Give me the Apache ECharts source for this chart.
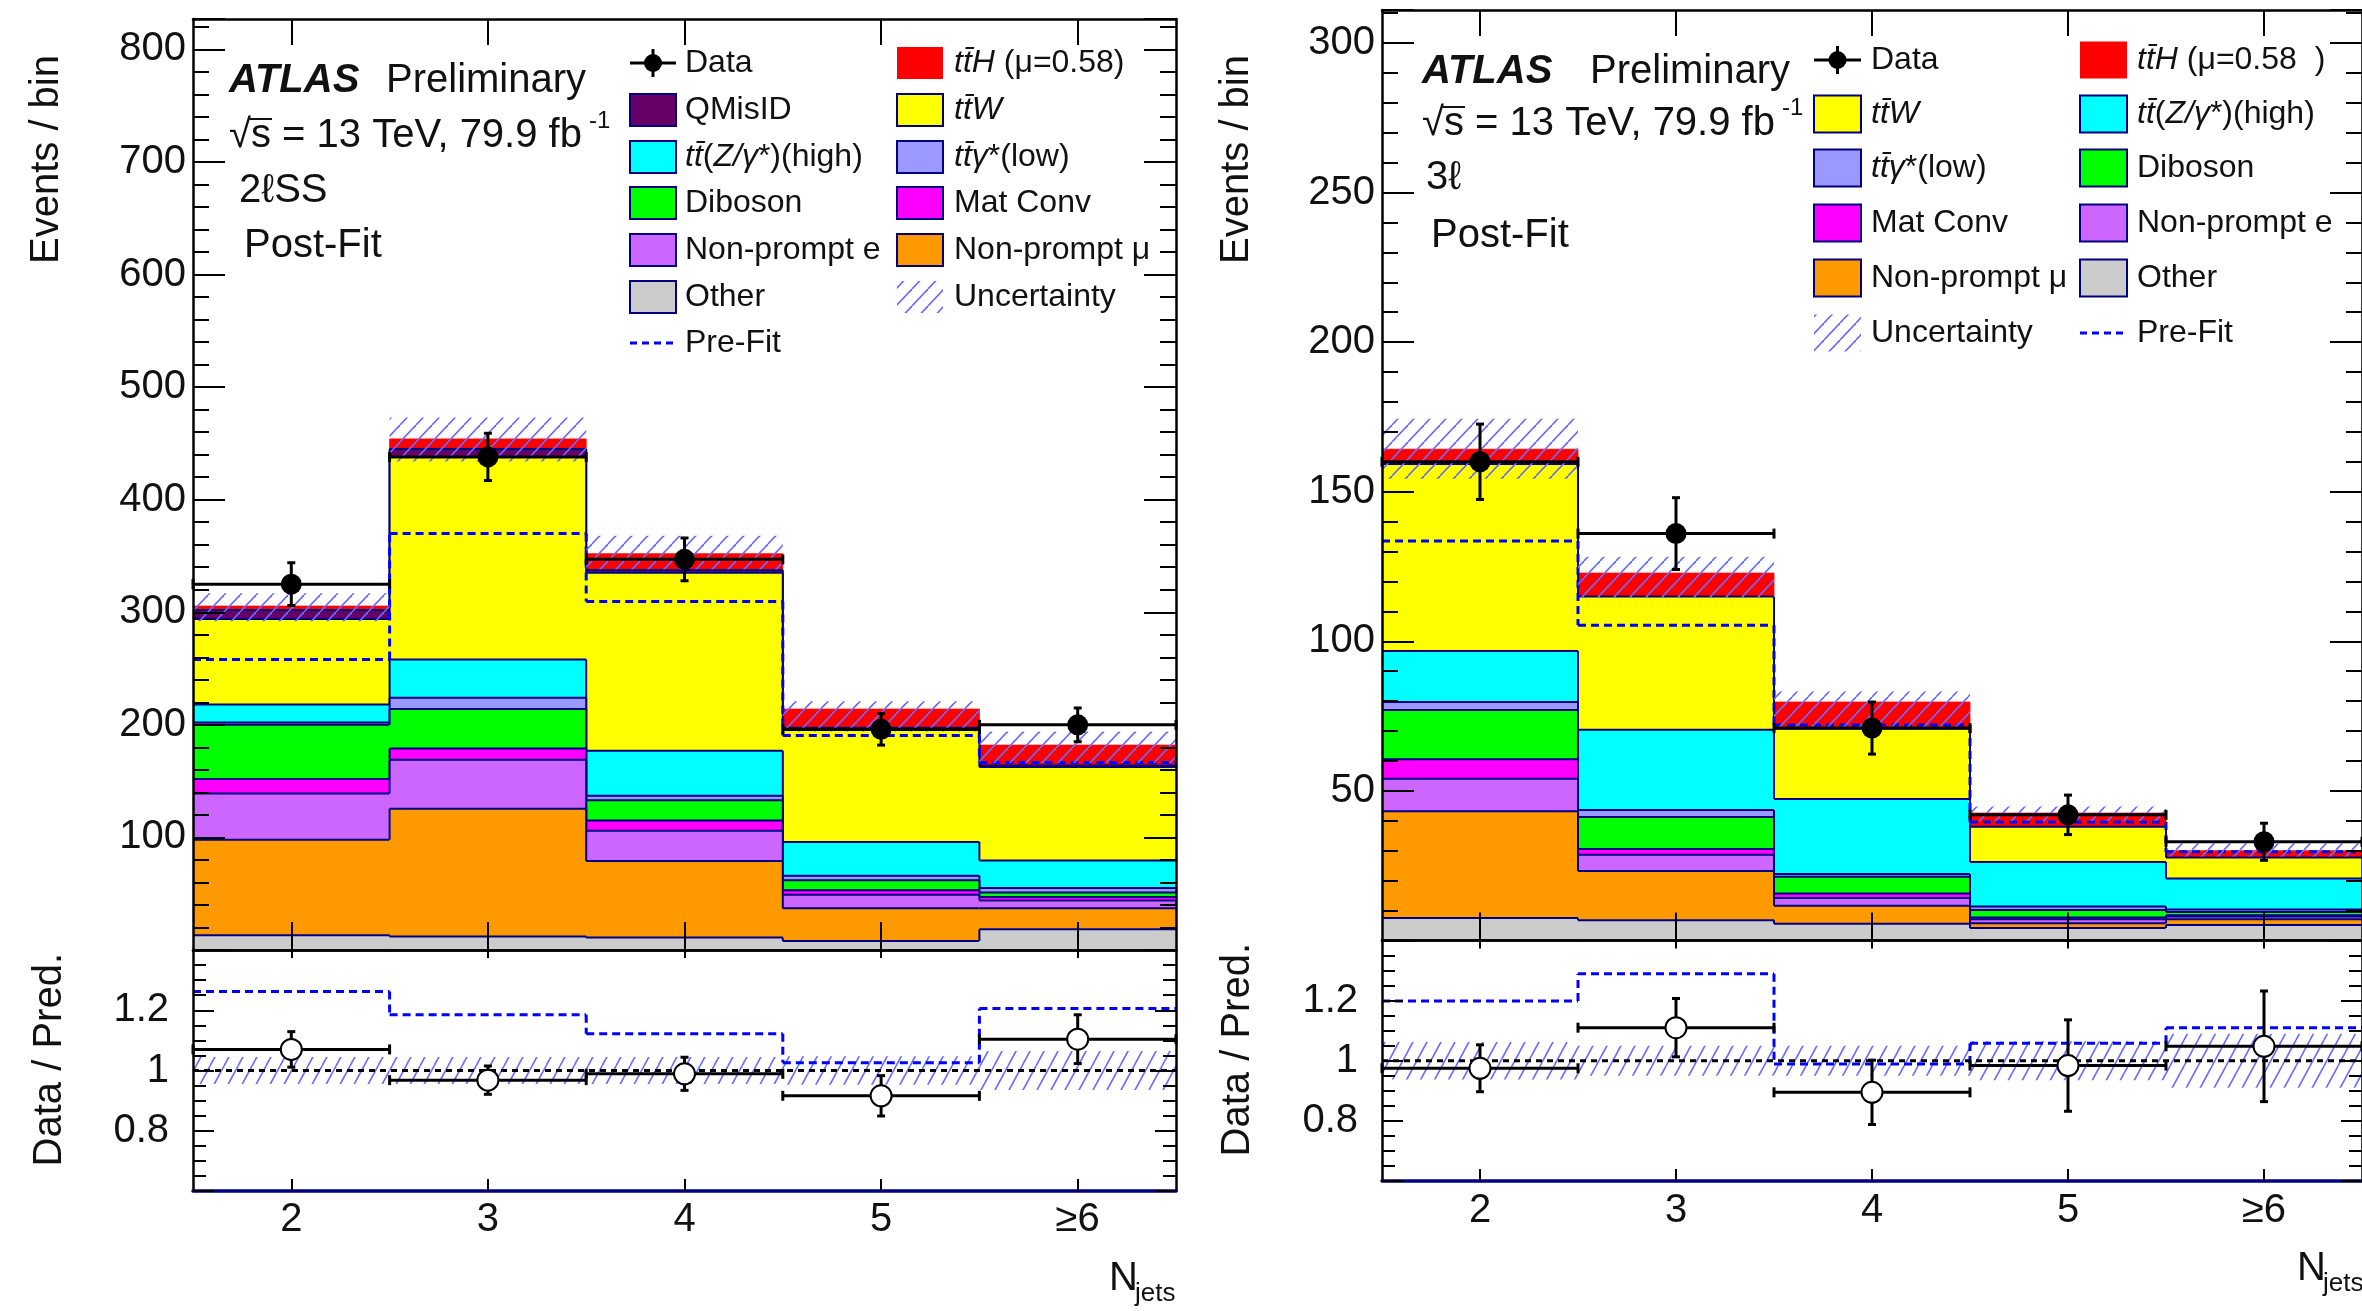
<!DOCTYPE html>
<html>
<head>
<meta charset="utf-8">
<title>ttH multilepton: N_jets post-fit</title>
<script src="https://cdn.jsdelivr.net/npm/echarts@6.0.0/dist/echarts.min.js"></script>
<style>
html, body { margin: 0; padding: 0; background: #fff; }
#chart { width: 2362px; height: 1311px; }
</style>
</head>
<body>
<div id="chart"></div>
<script>
// ---------- bins ----------
const categories = ['2', '3', '4', '5', '≥6'];

// ---------- 2ℓSS region (post-fit yields per bin, stack order bottom -> top) ----------
const ssOther   = [13, 12, 11, 8, 18.5];
const ssNPmu    = [85, 113.5, 68, 29, 18.5];
const ssNPe     = [41, 43.5, 27, 12, 7];
const ssMatConv = [13, 10, 9, 4, 3];
const ssDiboson = [48, 35, 18, 9, 4];
const ssTTgLow  = [2, 10, 4, 4, 4];
const ssTTZ     = [16, 34, 40, 30, 24.5];
const ssTTW     = [76, 180, 158, 99.5, 83];
const ssQMisID  = [8, 7, 2.5, 2, 1.5];
const ssTTH     = [3.5, 9, 14.5, 16.5, 18];
const ssData    = [325, 438, 347, 196, 200];
const ssDataErr = [19, 21, 19, 14, 15];
const ssPreFit  = [258, 370, 309.5, 190.5, 166.5];
const ssUncLo   = [292, 434, 338, 194, 166];
const ssUncHi   = [317, 473, 368, 221, 194];
const ssRatio    = [1.07, 0.968, 0.989, 0.916, 1.104];
const ssRatioErr = [0.059, 0.047, 0.055, 0.067, 0.081];
const ssRatioPre = [1.262, 1.185, 1.122, 1.026, 1.206];
const ssRatioUnc = [0.045, 0.045, 0.045, 0.047, 0.065];

// ---------- 3ℓ region ----------
const l3Other   = [7.5, 6.8, 5.6, 4.2, 5.2];
const l3NPmu    = [35.7, 16.4, 6, 1.6, 1.9];
const l3NPe     = [10.9, 5.5, 2.6, 1.3, 0.9];
const l3MatConv = [6.5, 1.9, 1.5, 0.6, 0.4];
const l3Diboson = [16.4, 10.7, 5.6, 2.5, 1.1];
const l3TTgLow  = [2.7, 2.3, 0.9, 1.2, 0.9];
const l3TTZ     = [17.1, 26.8, 25.1, 14.8, 10.3];
const l3TTW     = [62.5, 44.6, 23.5, 11.8, 7];
const l3TTH     = [4.9, 7.8, 8.9, 4.6, 2.3];
const l3Data    = [160, 136, 71, 42, 33];
const l3DataErr = [12.6, 12, 8.7, 6.6, 6.2];
const l3PreFit  = [133.5, 105.4, 72, 39.6, 29.7];
const l3UncLo   = [154.3, 114.7, 70.8, 39.9, 28.1];
const l3UncHi   = [174.4, 128.3, 83.2, 44.8, 32.4];
const l3Ratio    = [0.975, 1.11, 0.895, 0.984, 1.048];
const l3RatioErr = [0.078, 0.097, 0.107, 0.152, 0.184];
const l3RatioPre = [1.199, 1.289, 0.989, 1.058, 1.11];
const l3RatioUnc = [0.062, 0.05, 0.05, 0.065, 0.09];

// ---------- styling ----------
const FONT = '"Liberation Sans", Arial, Helvetica, sans-serif';
const INK = '#111111';
const NAVY = '#000080';
const HATCH = '#6a6aff';
const PREFIT = '#0000ff';
const COLORS = {
  other: '#cccccc', npmu: '#ff9900', npe: '#cc66ff', matconv: '#ff00ff', diboson: '#00ff00',
  ttglow: '#9999ff', ttz: '#00ffff', ttw: '#ffff00', qmisid: '#660066', tth: '#ff0000'
};

function hatchPattern(w, h) {
  const c = document.createElement('canvas');
  c.width = w; c.height = h;
  const g = c.getContext('2d');
  g.strokeStyle = HATCH; g.lineWidth = 1.6;
  for (const dx of [-w, 0, w]) {
    g.beginPath(); g.moveTo(dx, h); g.lineTo(dx + w, 0); g.stroke();
  }
  return { image: c, repeat: 'repeat' };
}
const hatchMain = hatchPattern(16, 17);
const hatchRatio = hatchPattern(14, 26);

// cumulative bounds of each stacked component
function stackLayers(list) {
  let base = categories.map(() => 0);
  return list.map(([key, values]) => {
    const lo = base.slice();
    const hi = base.map((b, i) => b + values[i]);
    base = hi;
    return { key, values, lo, hi };
  });
}

// one stacked component: filled bins + step outline along its upper edge
function layerSeries(L, xIdx, yIdx) {
  const outline = L.key !== 'tth';
  return {
    type: 'custom', name: L.key, xAxisIndex: xIdx, yAxisIndex: yIdx, clip: true, silent: true,
    data: L.values.map((v, i) => [i, L.lo[i], L.hi[i]]),
    renderItem(params, api) {
      const i = api.value(0);
      const w = api.size([1, 0])[0];
      const pLo = api.coord([i, api.value(1)]);
      const pHi = api.coord([i, api.value(2)]);
      const x0 = pLo[0] - w / 2, x1 = pLo[0] + w / 2;
      const col = COLORS[L.key];
      const children = [{
        type: 'rect', shape: { x: x0, y: pHi[1], width: w, height: pLo[1] - pHi[1] },
        style: { fill: col, stroke: col, lineWidth: 0.8 }
      }];
      if (outline) {
        children.push({ type: 'line', shape: { x1: x0, y1: pHi[1], x2: x1, y2: pHi[1] },
          style: { stroke: NAVY, lineWidth: 2 } });
        if (i > 0) {
          const prev = api.coord([i - 1, L.hi[i - 1]])[1];
          children.push({ type: 'line', shape: { x1: x0, y1: prev, x2: x0, y2: pHi[1] },
            style: { stroke: NAVY, lineWidth: 2 } });
        }
      }
      return { type: 'group', children };
    }
  };
}

// hatched uncertainty band
function bandSeries(lo, hi, xIdx, yIdx, pattern) {
  return {
    type: 'custom', xAxisIndex: xIdx, yAxisIndex: yIdx, clip: true, silent: true,
    data: lo.map((v, i) => [i, v, hi[i]]),
    renderItem(params, api) {
      const i = api.value(0);
      const w = api.size([1, 0])[0];
      const a = api.coord([i, api.value(1)]);
      const b = api.coord([i, api.value(2)]);
      return { type: 'rect', shape: { x: a[0] - w / 2, y: b[1], width: w, height: a[1] - b[1] },
        style: { fill: pattern } };
    }
  };
}

// dashed pre-fit step line
function stepSeries(vals, xIdx, yIdx) {
  return {
    type: 'custom', xAxisIndex: xIdx, yAxisIndex: yIdx, clip: true, silent: true,
    data: vals.map((v, i) => [i, v]),
    renderItem(params, api) {
      const i = api.value(0);
      const w = api.size([1, 0])[0];
      const p = api.coord([i, api.value(1)]);
      const st = { stroke: PREFIT, lineWidth: 3, lineDash: [8, 5] };
      const children = [{ type: 'line', shape: { x1: p[0] - w / 2, y1: p[1], x2: p[0] + w / 2, y2: p[1] }, style: st }];
      if (i > 0) {
        const prev = api.coord([i - 1, vals[i - 1]])[1];
        children.push({ type: 'line', shape: { x1: p[0] - w / 2, y1: prev, x2: p[0] - w / 2, y2: p[1] }, style: st });
      }
      return { type: 'group', children };
    }
  };
}

// dotted reference line at ratio = 1
function unitySeries(xIdx, yIdx) {
  return {
    type: 'custom', xAxisIndex: xIdx, yAxisIndex: yIdx, clip: true, silent: true,
    data: [[0, 1]],
    renderItem(params, api) {
      const w = api.size([1, 0])[0];
      const a = api.coord([0, 1]);
      const b = api.coord([categories.length - 1, 1]);
      return { type: 'line', shape: { x1: a[0] - w / 2, y1: a[1], x2: b[0] + w / 2, y2: a[1] },
        style: { stroke: '#000', lineWidth: 3, lineDash: [6, 5] } };
    }
  };
}

// data points with bin-width horizontal bars and vertical error bars
function pointSeries(vals, errs, xIdx, yIdx, open) {
  return {
    type: 'custom', xAxisIndex: xIdx, yAxisIndex: yIdx, clip: false, silent: true, z: 20,
    data: vals.map((v, i) => [i, v, errs[i]]),
    renderItem(params, api) {
      const i = api.value(0), v = api.value(1), e = api.value(2);
      const w = api.size([1, 0])[0];
      const c = api.coord([i, v]);
      const yt = api.coord([i, v + e])[1], yb = api.coord([i, v - e])[1];
      const x0 = c[0] - w / 2, x1 = c[0] + w / 2;
      const st = { stroke: '#000', lineWidth: 3 };
      return { type: 'group', children: [
        { type: 'line', shape: { x1: x0, y1: c[1], x2: x1, y2: c[1] }, style: st },
        { type: 'line', shape: { x1: x0, y1: c[1] - 5, x2: x0, y2: c[1] + 5 }, style: st },
        { type: 'line', shape: { x1: x1, y1: c[1] - 5, x2: x1, y2: c[1] + 5 }, style: st },
        { type: 'line', shape: { x1: c[0], y1: yt, x2: c[0], y2: yb }, style: st },
        { type: 'line', shape: { x1: c[0] - 4, y1: yt, x2: c[0] + 4, y2: yt }, style: st },
        { type: 'line', shape: { x1: c[0] - 4, y1: yb, x2: c[0] + 4, y2: yb }, style: st },
        { type: 'circle', shape: { cx: c[0], cy: c[1], r: 10.5 },
          style: open ? { fill: '#fff', stroke: '#000', lineWidth: 2 } : { fill: '#000' } }
      ] };
    }
  };
}

// ---------- axes ----------
function catAxis(gridIndex, position, tickLen, o) {
  o = o || {};
  return {
    type: 'category', gridIndex, position, data: categories, boundaryGap: true, z: 5,
    axisLine: { show: true, onZero: false, lineStyle: { color: o.lineColor || '#000', width: o.lineWidth || 2.5 } },
    axisTick: { show: true, inside: true, alignWithLabel: true, interval: 0, length: tickLen,
      lineStyle: { color: '#000', width: 2 } },
    axisLabel: o.labels
      ? { show: true, interval: 0, margin: o.margin, fontSize: 40, fontFamily: FONT, color: INK }
      : { show: false },
    splitLine: { show: false }
  };
}
function valAxis(gridIndex, position, min, max, interval, minorSplit, major, minor, fmt, margin) {
  return {
    type: 'value', gridIndex, position, min, max, interval, z: 5,
    axisLine: { show: true, onZero: false, lineStyle: { color: '#000', width: 2.5 } },
    axisTick: { show: true, inside: true, length: major, lineStyle: { color: '#000', width: 2 } },
    minorTick: { show: true, splitNumber: minorSplit, length: minor, lineStyle: { color: '#000', width: 2 } },
    axisLabel: fmt
      ? { show: true, formatter: fmt, margin, fontSize: 40, fontFamily: FONT, color: INK }
      : { show: false },
    splitLine: { show: false }, minorSplitLine: { show: false }
  };
}
const fmtSS = v => (v > 0 && v % 100 === 0) ? String(v) : '';
const fmt3L = v => (v > 0 && v % 50 === 0) ? String(v) : '';
const fmtRatio = v => {
  if (Math.abs(v - 1) < 1e-6) return '1';
  if (Math.abs(v - 0.8) < 1e-6 || Math.abs(v - 1.2) < 1e-6) return v.toFixed(1);
  return '';
};

// ---------- legend + annotations ----------
function T(x, baseline, text, size, extra) {
  return { type: 'text', x, y: baseline - 0.3465 * size, z: 100, silent: true,
    style: Object.assign({ text, fontSize: size, fontFamily: FONT, fill: INK, align: 'left', verticalAlign: 'middle' }, extra || {}) };
}
const ITALIC = { fontStyle: 'italic', fontSize: 32, fontFamily: FONT, fill: INK };
function legendLabel(x, y, text) {
  return { type: 'text', x, y, z: 100, silent: true,
    style: { text, fontSize: 32, fontFamily: FONT, fill: INK, align: 'left', verticalAlign: 'middle', rich: { i: ITALIC } } };
}
function legendBox(x, y, w, h, key) {
  return { type: 'rect', z: 100, silent: true, shape: { x, y: y - h / 2, width: w, height: h },
    style: key === 'tth' ? { fill: COLORS[key] } : { fill: COLORS[key], stroke: NAVY, lineWidth: 2 } };
}
function legendData(x, y, w) {
  const cx = x + w / 2;
  return [
    { type: 'line', z: 100, silent: true, shape: { x1: x, y1: y, x2: x + w, y2: y }, style: { stroke: '#000', lineWidth: 3 } },
    { type: 'line', z: 100, silent: true, shape: { x1: cx, y1: y - 14, x2: cx, y2: y + 14 }, style: { stroke: '#000', lineWidth: 3 } },
    { type: 'circle', z: 101, silent: true, shape: { cx, cy: y, r: 9 }, style: { fill: '#000' } }
  ];
}
function legendHatch(x, y, w, h) {
  return { type: 'rect', z: 100, silent: true, shape: { x, y: y - h / 2, width: w, height: h }, style: { fill: hatchMain } };
}
function legendPre(x, y, w) {
  return { type: 'line', z: 100, silent: true, shape: { x1: x, y1: y, x2: x + w, y2: y },
    style: { stroke: PREFIT, lineWidth: 3, lineDash: [7, 5] } };
}

const LABELS = {
  qmisid: 'QMisID', ttz: '{i|tt̄}({i|Z/γ}*)(high)', diboson: 'Diboson', npe: 'Non-prompt e',
  other: 'Other', tth: '{i|tt̄H} (μ=0.58)', ttw: '{i|tt̄W}', ttglow: '{i|tt̄γ}*(low)',
  matconv: 'Mat Conv', npmu: 'Non-prompt μ'
};

const graphics = [];
// axis titles
function vTitle(x, yEnd, text) {
  return { type: 'text', x, y: yEnd, rotation: Math.PI / 2, z: 100, silent: true,
    style: { text, fontSize: 40, fontFamily: FONT, fill: INK, align: 'right', verticalAlign: 'middle' } };
}
graphics.push(vTitle(47, 55, 'Events / bin'), vTitle(50, 953, 'Data / Pred.'));
graphics.push(vTitle(1237, 55, 'Events / bin'), vTitle(1238, 943, 'Data / Pred.'));
graphics.push(T(1109, 1293, 'N', 40), T(1135, 1303, 'jets', 26));
graphics.push(T(2297, 1283, 'N', 40), T(2323, 1293, 'jets', 26));

// glyph metrics used to lay the square-root bar over the "s"
const measure = document.createElement('canvas').getContext('2d');
measure.font = '40px ' + FONT;
const rootM = measure.measureText('√');
const rootW = rootM.width;
const rootTop = rootM.actualBoundingBoxAscent || 32;
const sW = measure.measureText('s').width;

// panel headers
function header(x, xPre, yAtlas, ySqrt, xSup, ySup, region, xReg, yReg, xPF, yPF) {
  const barY = ySqrt - rootTop + 1;
  return [
    T(x, yAtlas, 'ATLAS', 40, { fontWeight: 'bold', fontStyle: 'italic' }),
    T(xPre, yAtlas, 'Preliminary', 40),
    T(x, ySqrt, '√s = 13 TeV, 79.9 fb', 40),
    { type: 'line', z: 100, silent: true,
      shape: { x1: x + rootW - 1.5, y1: barY, x2: x + rootW + sW + 1, y2: barY },
      style: { stroke: INK, lineWidth: 2 } },
    T(xSup, ySup, '-1', 24),
    T(xReg, yReg, region, 40),
    T(xPF, yPF, 'Post-Fit', 40)
  ];
}
graphics.push(...header(229, 386, 95, 150, 589, 130, '2ℓSS', 239, 205, 244, 260));
graphics.push(...header(1422, 1590, 86, 138, 1782, 117, '3ℓ', 1426, 192, 1431, 250));

// 2ℓSS legend
(function () {
  const rows = [63, 110, 157, 203, 250, 297, 343];
  const c1 = 630, c2 = 897, w = 46, h = 32, t1 = 685, t2 = 954;
  graphics.push(...legendData(c1, rows[0], w), legendLabel(t1, rows[0], 'Data'));
  ['qmisid', 'ttz', 'diboson', 'npe', 'other'].forEach((k, j) => {
    graphics.push(legendBox(c1, rows[j + 1], w, h, k), legendLabel(t1, rows[j + 1], LABELS[k]));
  });
  graphics.push(legendPre(c1, rows[6], w), legendLabel(t1, rows[6], 'Pre-Fit'));
  ['tth', 'ttw', 'ttglow', 'matconv', 'npmu'].forEach((k, j) => {
    graphics.push(legendBox(c2, rows[j], w, h, k), legendLabel(t2, rows[j], LABELS[k]));
  });
  graphics.push(legendHatch(c2, rows[5], w, h), legendLabel(t2, rows[5], 'Uncertainty'));
})();

// 3ℓ legend
(function () {
  const rows = [60, 114, 168, 223, 278, 333];
  const c1 = 1814, c2 = 2080, w = 47, h = 37, t1 = 1871, t2 = 2137;
  graphics.push(...legendData(c1, rows[0], w), legendLabel(t1, rows[0], 'Data'));
  ['ttw', 'ttglow', 'matconv', 'npmu'].forEach((k, j) => {
    graphics.push(legendBox(c1, rows[j + 1], w, h, k), legendLabel(t1, rows[j + 1], LABELS[k]));
  });
  graphics.push(legendHatch(c1, rows[5], w, h), legendLabel(t1, rows[5], 'Uncertainty'));
  const col2 = ['tth', 'ttz', 'diboson', 'npe', 'other'];
  col2.forEach((k, j) => {
    const lab = k === 'tth' ? '{i|tt̄H} (μ=0.58  )' : LABELS[k];
    graphics.push(legendBox(c2, rows[j], w, h, k), legendLabel(t2, rows[j], lab));
  });
  graphics.push(legendPre(c2, rows[5], w), legendLabel(t2, rows[5], 'Pre-Fit'));
})();

// ---------- series ----------
const ssLayers = stackLayers([
  ['other', ssOther], ['npmu', ssNPmu], ['npe', ssNPe], ['matconv', ssMatConv], ['diboson', ssDiboson],
  ['ttglow', ssTTgLow], ['ttz', ssTTZ], ['ttw', ssTTW], ['qmisid', ssQMisID], ['tth', ssTTH]
]);
const l3Layers = stackLayers([
  ['other', l3Other], ['npmu', l3NPmu], ['npe', l3NPe], ['matconv', l3MatConv], ['diboson', l3Diboson],
  ['ttglow', l3TTgLow], ['ttz', l3TTZ], ['ttw', l3TTW], ['tth', l3TTH]
]);

const series = [];
ssLayers.slice().reverse().forEach(L => series.push(layerSeries(L, 0, 0)));
series.push(stepSeries(ssPreFit, 0, 0), bandSeries(ssUncLo, ssUncHi, 0, 0, hatchMain), pointSeries(ssData, ssDataErr, 0, 0, false));
series.push(bandSeries(ssRatioUnc.map(u => 1 - u), ssRatioUnc.map(u => 1 + u), 2, 2, hatchRatio),
  stepSeries(ssRatioPre, 2, 2), unitySeries(2, 2), pointSeries(ssRatio, ssRatioErr, 2, 2, true));
l3Layers.slice().reverse().forEach(L => series.push(layerSeries(L, 4, 4)));
series.push(stepSeries(l3PreFit, 4, 4), bandSeries(l3UncLo, l3UncHi, 4, 4, hatchMain), pointSeries(l3Data, l3DataErr, 4, 4, false));
series.push(bandSeries(l3RatioUnc.map(u => 1 - u), l3RatioUnc.map(u => 1 + u), 6, 6, hatchRatio),
  stepSeries(l3RatioPre, 6, 6), unitySeries(6, 6), pointSeries(l3Ratio, l3RatioErr, 6, 6, true));

const option = {
  animation: false,
  backgroundColor: '#ffffff',
  grid: [
    { left: 193, top: 19, width: 983, height: 931 },
    { left: 193, top: 950, width: 983, height: 241 },
    { left: 1382, top: 10, width: 982, height: 930.5 },
    { left: 1382, top: 940.5, width: 982, height: 240.5 }
  ],
  xAxis: [
    catAxis(0, 'bottom', 28), catAxis(0, 'top', 26),
    catAxis(1, 'bottom', 12, { labels: true, margin: 9, lineColor: NAVY, lineWidth: 3.5 }), catAxis(1, 'top', 8),
    catAxis(2, 'bottom', 28), catAxis(2, 'top', 26),
    catAxis(3, 'bottom', 12, { labels: true, margin: 10, lineColor: NAVY, lineWidth: 3.5 }), catAxis(3, 'top', 8)
  ],
  yAxis: [
    valAxis(0, 'left', 0, 827, 100, 5, 32, 16, fmtSS, 7), valAxis(0, 'right', 0, 827, 100, 5, 32, 16),
    valAxis(1, 'left', 0.6, 1.4, 0.2, 4, 21, 13, fmtRatio, 24), valAxis(1, 'right', 0.6, 1.4, 0.2, 4, 21, 13),
    valAxis(2, 'left', 0, 311, 50, 5, 32, 16, fmt3L, 7), valAxis(2, 'right', 0, 311, 50, 5, 32, 16),
    valAxis(3, 'left', 0.6, 1.4, 0.2, 4, 21, 13, fmtRatio, 24), valAxis(3, 'right', 0.6, 1.4, 0.2, 4, 21, 13)
  ],
  series,
  graphic: { elements: graphics }
};

const chart = echarts.init(document.getElementById('chart'), null, { renderer: 'canvas' });
chart.setOption(option);
</script>
</body>
</html>
